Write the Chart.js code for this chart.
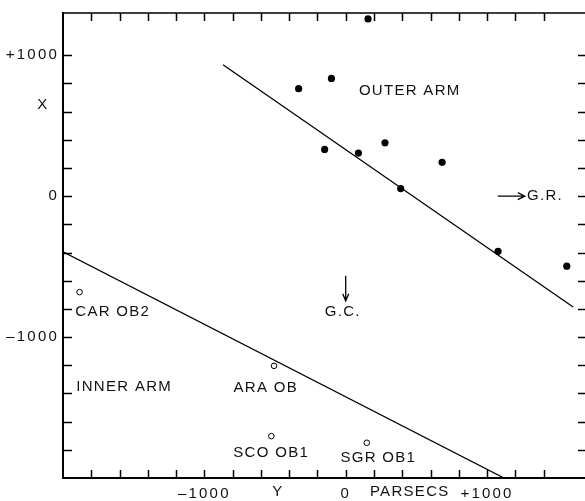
<!DOCTYPE html>
<html><head><meta charset="utf-8">
<script src="https://cdn.jsdelivr.net/npm/chart.js@4.4.1/dist/chart.umd.min.js"></script>
<style>html,body{margin:0;padding:0;background:#fff;overflow:hidden;width:585px;height:501px}
#wrap{width:592px;height:501px}</style></head>
<body><div id="wrap"><canvas id="c" width="592" height="501"></canvas></div>
<script>
// Outer arm associations (filled dots): Y (horizontal, pc) and X (vertical, pc)
const outerArmY = [158, -333, -101, -149, 90, 278, 389, 682, 1078, 1564];
const outerArmX = [1258, 763, 836, 332, 306, 379, 54, 240, -391, -497];
// Inner arm associations (open circles)
const innerNames = ['CAR OB2', 'ARA OB', 'SCO OB1', 'SGR OB1'];
const innerArmY = [-1883, -507, -526, 149];
const innerArmX = [-681, -1204, -1703, -1750];
// Fitted arm lines
const outerLineY = [-868, 1609];
const outerLineX = [933, -787];
const innerLineY = [-2000, 1120];
const innerLineX = [-395, -2000];
// Axis labels
const hTickValues = [-1000, 0, 1000];
const hTickLabels = ['\u20131000', '0', '+1000'];
const vTickValues = [1000, 0, -1000];
const vTickLabels = ['+1000', '0', '\u20131000'];
const hTickMarks = [-1800, -1600, -1400, -1200, -1000, -800, -600, -400, -200, 0, 200, 400, 600, 800, 1000, 1200, 1400];
const vTickMarks = [-1800, -1600, -1400, -1200, -1000, -800, -600, -400, -200, 0, 200, 400, 600, 800, 1000];

// Text annotations (data coordinates)
const notes = [
  {t: 'OUTER ARM', x: 453, y: 745},
  {t: 'CAR OB2', x: -1648, y: -818},
  {t: 'INNER ARM', x: -1567, y: -1353},
  {t: 'ARA OB', x: -566, y: -1360},
  {t: 'SCO OB1', x: -527, y: -1824},
  {t: 'SGR OB1', x: 231, y: -1859},
  {t: 'G.C.', x: -21, y: -818}
];

const FONT = '15px "Liberation Sans", Arial, sans-serif';

const framePlugin = {
  id: 'frame',
  beforeDraw(chart) {
    const ctx = chart.ctx;
    ctx.save();
    ctx.fillStyle = '#fff';
    ctx.fillRect(0, 0, chart.width, chart.height);
    ctx.restore();
    ctx.letterSpacing = '2.2px';
  },
  afterDraw(chart) {
    const ctx = chart.ctx;
    const a = chart.chartArea;
    const xs = chart.scales.x, ys = chart.scales.y;
    ctx.save();
    ctx.letterSpacing = '1.3px';
    ctx.strokeStyle = '#000';
    ctx.fillStyle = '#111';
    // top border
    ctx.lineWidth = 1.6;
    ctx.beginPath();
    ctx.moveTo(a.left, a.top); ctx.lineTo(a.right + 2, a.top);
    ctx.moveTo(a.right, a.top); ctx.lineTo(a.right, a.bottom);
    ctx.stroke();
    // inward ticks
    ctx.lineWidth = 1.5;
    ctx.beginPath();
    hTickMarks.forEach(v => {
      const px = Math.round(xs.getPixelForValue(v)) + 0.5;
      ctx.moveTo(px, a.bottom); ctx.lineTo(px, a.bottom - 8);
      ctx.moveTo(px, a.top); ctx.lineTo(px, a.top + 8);
    });
    vTickMarks.forEach(v => {
      const py = Math.round(ys.getPixelForValue(v)) + 0.5;
      ctx.moveTo(a.left, py); ctx.lineTo(a.left + 9, py);
      ctx.moveTo(a.right, py); ctx.lineTo(a.right - 8, py);
    });
    ctx.stroke();
    // arrows
    ctx.lineWidth = 1.3;
    const gx = xs.getPixelForValue(0);
    const gy1 = ys.getPixelForValue(-565), gy2 = ys.getPixelForValue(-742);
    ctx.beginPath();
    ctx.moveTo(gx, gy1); ctx.lineTo(gx, gy2);
    ctx.moveTo(gx - 3, gy2 - 7); ctx.lineTo(gx, gy2); ctx.lineTo(gx + 3, gy2 - 7);
    const rx1 = xs.getPixelForValue(1076), rx2 = xs.getPixelForValue(1267), ry = ys.getPixelForValue(0);
    ctx.moveTo(rx1, ry); ctx.lineTo(rx2, ry);
    ctx.moveTo(rx2 - 7, ry - 3.5); ctx.lineTo(rx2, ry); ctx.lineTo(rx2 - 7, ry + 3.5);
    ctx.stroke();
    // text
    ctx.font = FONT;
    ctx.textBaseline = 'middle';
    ctx.textAlign = 'center';
    notes.forEach(n => {
      ctx.fillText(n.t, xs.getPixelForValue(n.x), ys.getPixelForValue(n.y));
    });
    ctx.textAlign = 'left';
    ctx.fillText('G.R.', xs.getPixelForValue(1283), ry);
    // axis names
    ctx.textAlign = 'center';
    ctx.fillText('X', a.left - 20, ys.getPixelForValue(646));
    const by = a.bottom + 14;
    ctx.fillText('Y', xs.getPixelForValue(-480), by);
    ctx.fillText('PARSECS', xs.getPixelForValue(453), by);
    ctx.restore();
  }
};

new Chart(document.getElementById('c'), {
  type: 'scatter',
  data: {
    datasets: [
      {
        label: 'Outer arm',
        data: outerArmY.map((v, i) => ({x: v, y: outerArmX[i]})),
        backgroundColor: '#000', borderColor: '#000', borderWidth: 0, pointRadius: 3.6
      },
      {
        label: 'Inner arm',
        data: innerArmY.map((v, i) => ({x: v, y: innerArmX[i], name: innerNames[i]})),
        backgroundColor: '#fff', borderColor: '#000', borderWidth: 1, pointRadius: 2.8
      },
      {
        label: 'Outer line',
        data: outerLineY.map((v, i) => ({x: v, y: outerLineX[i]})),
        showLine: true, borderColor: '#000', borderWidth: 1.3, pointRadius: 0, fill: false
      },
      {
        label: 'Inner line',
        data: innerLineY.map((v, i) => ({x: v, y: innerLineX[i]})),
        showLine: true, borderColor: '#000', borderWidth: 1.3, pointRadius: 0, fill: false
      }
    ]
  },
  options: {
    responsive: false,
    animation: false,
    layout: {padding: {top: 9, right: 6, left: 0, bottom: 0}},
    plugins: {legend: {display: false}, tooltip: {enabled: false}},
    scales: {
      x: {
        type: 'linear', min: -2000, max: 1700,
        afterBuildTicks: s => { s.ticks = hTickValues.map(v => ({value: v})); },
        afterFit: s => { s.height = 23; },
        ticks: {
          autoSkip: false, maxRotation: 0, padding: 7, color: '#111',
          font: {family: '"Liberation Sans", Arial, sans-serif', size: 15},
          callback: v => hTickLabels[hTickValues.indexOf(v)]
        },
        grid: {display: false, drawTicks: false},
        border: {display: true, color: '#000', width: 2}
      },
      y: {
        type: 'linear', min: -2000, max: 1300,
        afterBuildTicks: s => { s.ticks = vTickValues.map(v => ({value: v})); },
        afterFit: s => { s.width = 63; },
        ticks: {
          autoSkip: false, padding: 4, color: '#111',
          font: {family: '"Liberation Sans", Arial, sans-serif', size: 15},
          callback: v => vTickLabels[vTickValues.indexOf(v)]
        },
        grid: {display: false, drawTicks: false},
        border: {display: true, color: '#000', width: 2}
      }
    }
  },
  plugins: [framePlugin]
});
</script>
</body></html>
